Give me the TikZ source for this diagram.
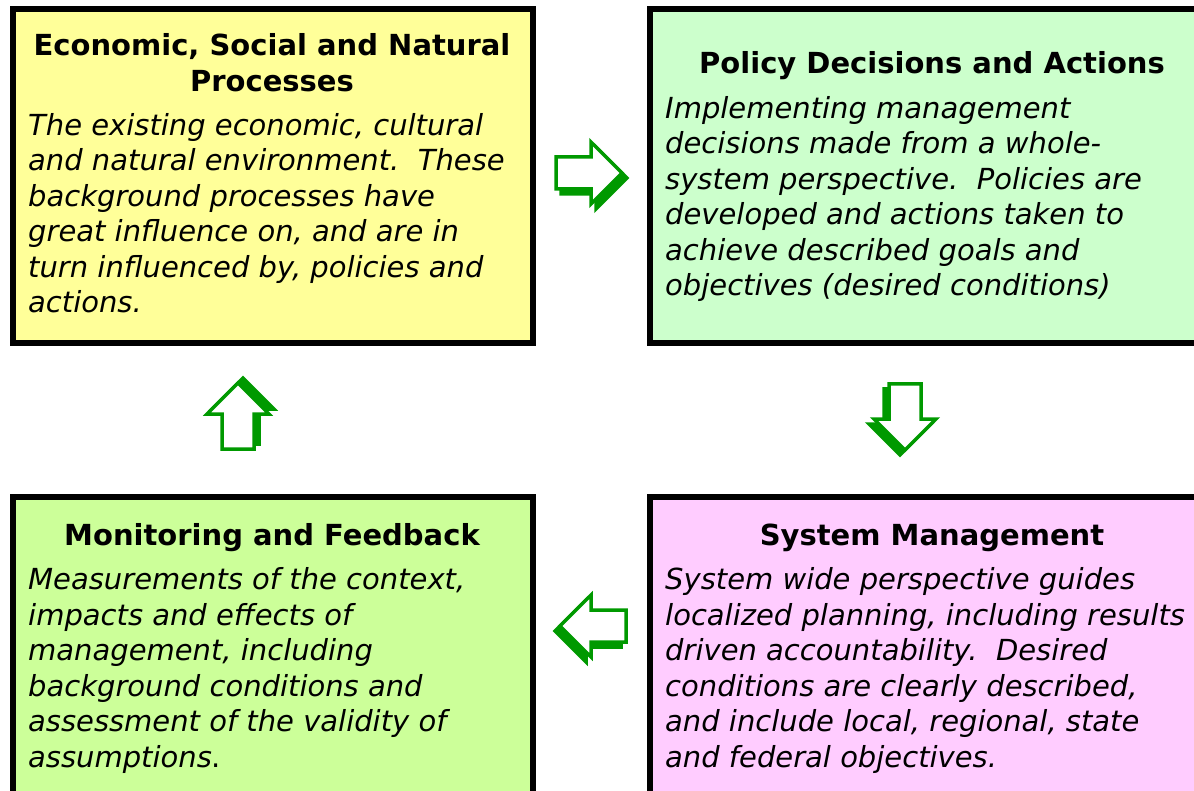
\documentclass[tikz,border=0pt]{standalone}
\usepackage{fontspec}
\setmainfont{DejaVu Sans}
\definecolor{paleyellow}{HTML}{FFFF99}
\definecolor{palegreen}{HTML}{CCFFCC}
\definecolor{palelime}{HTML}{CCFF99}
\definecolor{palepink}{HTML}{FFCCFF}
\definecolor{arrowgreen}{HTML}{009900}
\begin{document}
\begin{tikzpicture}[x=1pt,y=-1pt,
  panel/.style={draw=black, line width=6pt, inner sep=0pt, anchor=north west,
    minimum width=520pt},
  heading/.style={font=\bfseries\fontsize{29}{36}\selectfont, align=center,
    inner sep=0pt, anchor=base},
  bodytext/.style={font=\itshape\fontsize{29}{35.5}\selectfont, align=left,
    inner sep=0pt, anchor=base west},
  blockarrow/.pic={
    % extruded side of the arrow
    \filldraw[arrowgreen, line width=3.5pt, shift={(5,5)}, line join=miter]
      (0,-16) -- (35,-16) -- (35,-31) -- (66,0) -- (35,31) -- (35,16) -- (0,16) -- cycle;
    % front face
    \draw[arrowgreen, line width=3.5pt, fill=white, line join=miter]
      (0,-16) -- (35,-16) -- (35,-31) -- (66,0) -- (35,31) -- (35,16) -- (0,16) -- cycle;
  },
]
\useasboundingbox (0,0) rectangle (1194,791);

% four panels
\node[panel, fill=paleyellow, minimum height=334pt] (econ) at (10,6) {};
\node[panel, fill=palegreen, minimum height=334pt, minimum width=560pt] (policy) at (647,6) {};
\node[panel, fill=palelime, minimum height=320pt] (monitor) at (10,494) {};
\node[panel, fill=palepink, minimum height=320pt, minimum width=560pt] (system) at (647,494) {};

% headings (placed by the baseline of their last line)
\node[heading] (econT) at (272,92) {Economic, Social and Natural\\Processes};
\node[heading] (policyT) at (932,74) {Policy Decisions and Actions};
\node[heading] (monitorT) at (272,545) {Monitoring and Feedback};
\node[heading] (systemT) at (932,545) {System Management};

% descriptions (placed by the baseline of their last line)
\node[bodytext] (econB) at (28,313) {The existing economic, cultural\\
  and natural environment.\ \ These\\background processes have\\
  great influence on, and are in\\turn influenced by, policies and\\actions.};
\node[bodytext] (policyB) at (665,296) {Implementing management\\
  decisions made from a whole-\\system perspective.\ \ Policies are\\
  developed and actions taken to\\achieve described goals and\\
  objectives (desired conditions)};
\node[bodytext] (monitorB) at (28,767) {Measurements of the context,\\
  impacts and effects of\\management, including\\background conditions and\\
  assessment of the validity of\\assumptions\textup{.}};
\node[bodytext] (systemB) at (665,767) {System wide perspective guides\\
  localized planning, including results\\driven accountability.\ \ Desired\\
  conditions are clearly described,\\and include local, regional, state\\
  and federal objectives.};

% cycle arrows
\pic at (556,173) {blockarrow};
\pic[rotate=-90] at (905,384) {blockarrow};
\pic[xscale=-1] at (626,626) {blockarrow};
\pic[rotate=90] at (238,449) {blockarrow};
\end{tikzpicture}
\end{document}
